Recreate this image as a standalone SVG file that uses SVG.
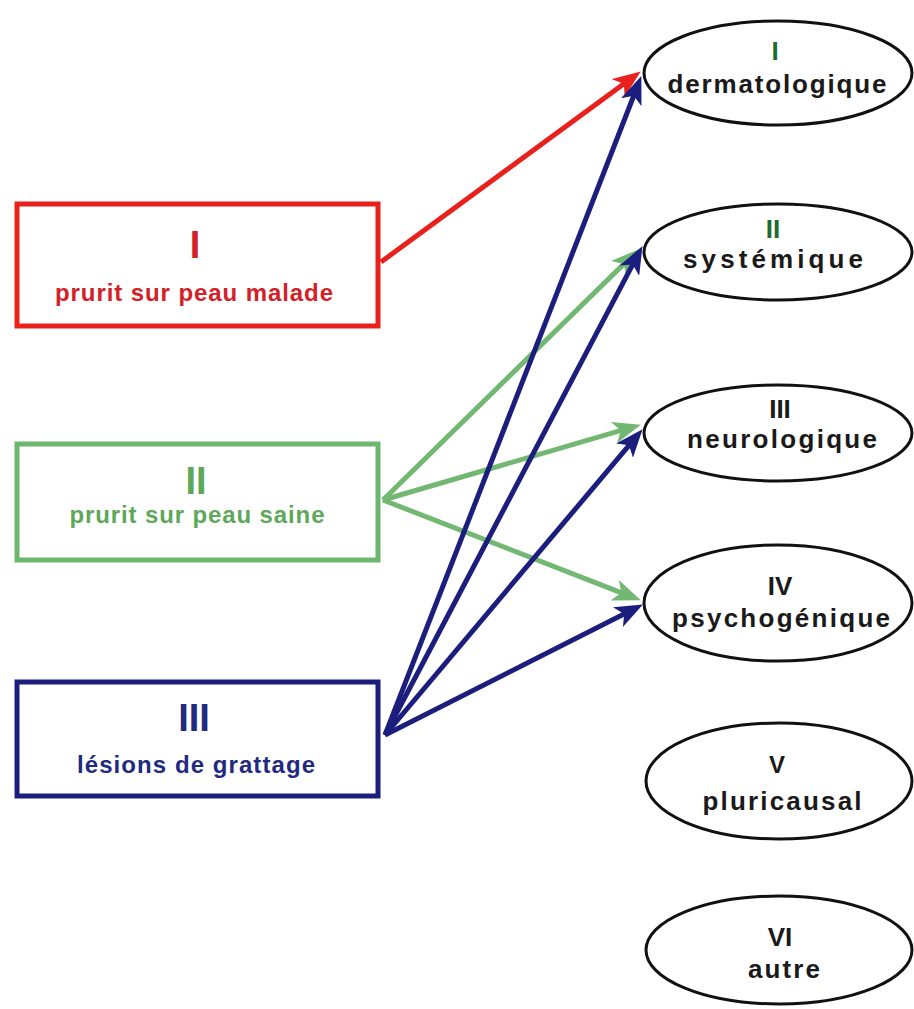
<svg xmlns="http://www.w3.org/2000/svg" width="914" height="1009" viewBox="0 0 914 1009">
<style>
.box{fill:#fff;stroke-width:5}
.ell{fill:#fff;stroke:#111;stroke-width:3}
.t{font-family:"Liberation Sans",Arial,sans-serif;font-weight:bold;text-anchor:middle}
.num{font-size:38px}
.sub{font-size:24px}
.et{font-size:26px;fill:#1a1a1a}
.conn line{stroke-width:5;fill:none}
</style>
<defs>
<marker id="ar" viewBox="0 0 28 22" refX="19" refY="11" markerWidth="28" markerHeight="22" markerUnits="userSpaceOnUse" orient="auto"><path d="M0,0 L28,11 L0,22 L7,11 Z" fill="#e8211c"/></marker>
<marker id="ag" viewBox="0 0 28 22" refX="19" refY="11" markerWidth="28" markerHeight="22" markerUnits="userSpaceOnUse" orient="auto"><path d="M0,0 L28,11 L0,22 L7,11 Z" fill="#72b872"/></marker>
<marker id="ab" viewBox="0 0 28 22" refX="19" refY="11" markerWidth="28" markerHeight="22" markerUnits="userSpaceOnUse" orient="auto"><path d="M0,0 L28,11 L0,22 L7,11 Z" fill="#1b1e7c"/></marker>
</defs>
<rect width="914" height="1009" fill="#fff"/>
<g id="connectors" class="conn">
<line x1="383" y1="500" x2="632.3" y2="255.6" stroke="#72b872" marker-end="url(#ag)"/>
<line x1="383" y1="500" x2="632.3" y2="427.2" stroke="#72b872" marker-end="url(#ag)"/>
<line x1="383" y1="500" x2="632.5" y2="597.1" stroke="#72b872" marker-end="url(#ag)"/>
<line x1="381" y1="262" x2="633.5" y2="76.7" stroke="#e8211c" stroke-width="4.5" marker-end="url(#ar)"/>
<line x1="385" y1="735" x2="638.1" y2="84.5" stroke="#1b1e7c" marker-end="url(#ab)"/>
<line x1="385" y1="735" x2="638.3" y2="253.9" stroke="#1b1e7c" marker-end="url(#ab)"/>
<line x1="385" y1="735" x2="636.8" y2="436.1" stroke="#1b1e7c" marker-end="url(#ab)"/>
<line x1="385" y1="735" x2="634.9" y2="608.6" stroke="#1b1e7c" marker-end="url(#ab)"/>
</g>
<g id="box1">
<rect class="box" x="17" y="204" width="361" height="122" stroke="#e8211c"/>
<text class="t num" x="195" y="258" fill="#d42027">I</text>
<text class="t sub" x="194" y="301" fill="#d42027" textLength="278" lengthAdjust="spacing">prurit sur peau malade</text>
</g>
<g id="box2">
<rect class="box" x="17" y="444" width="361" height="116" stroke="#6db66d"/>
<text class="t num" x="196" y="494" fill="#5ea85a">II</text>
<text class="t sub" x="197" y="523" fill="#5ea85a" textLength="255" lengthAdjust="spacing">prurit sur peau saine</text>
</g>
<g id="box3">
<rect class="box" x="17" y="682" width="361" height="114" stroke="#1b1e7c"/>
<text class="t num" x="194" y="731" fill="#1f2a80">III</text>
<text class="t sub" x="196" y="773" fill="#1f2a80" textLength="238" lengthAdjust="spacing">lésions de grattage</text>
</g>
<g id="e1">
<ellipse class="ell" cx="778" cy="73" rx="134" ry="52"/>
<text class="t et" x="775" y="60" style="fill:#1e6b2e">I</text>
<text class="t et" x="777" y="93" textLength="219" lengthAdjust="spacing">dermatologique</text>
</g>
<g id="e2">
<ellipse class="ell" cx="778" cy="252" rx="134" ry="48"/>
<text class="t et" x="773" y="238" style="fill:#1e6b2e">II</text>
<text class="t et" x="773" y="268" textLength="180" lengthAdjust="spacing">systémique</text>
</g>
<g id="e3">
<ellipse class="ell" cx="778" cy="433" rx="134" ry="48"/>
<text class="t et" x="780" y="418">III</text>
<text class="t et" x="782" y="448" textLength="190" lengthAdjust="spacing">neurologique</text>
</g>
<g id="e4">
<ellipse class="ell" cx="778" cy="603" rx="134" ry="58"/>
<text class="t et" x="780" y="595">IV</text>
<text class="t et" x="781" y="627" textLength="218" lengthAdjust="spacing">psychogénique</text>
</g>
<g id="e5">
<ellipse class="ell" cx="779" cy="781" rx="133" ry="58"/>
<text class="t et" x="777" y="773" style="font-size:24px">V</text>
<text class="t et" x="782" y="810" textLength="159" lengthAdjust="spacing">pluricausal</text>
</g>
<g id="e6">
<ellipse class="ell" cx="779" cy="950" rx="133" ry="54"/>
<text class="t et" x="780" y="946">VI</text>
<text class="t et" x="784" y="978" textLength="72" lengthAdjust="spacing">autre</text>
</g>
</svg>
